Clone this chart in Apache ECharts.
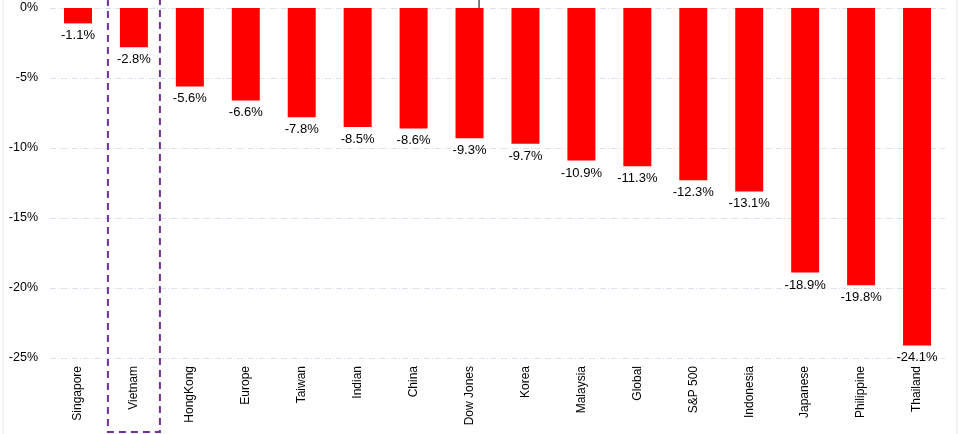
<!DOCTYPE html>
<html><head><meta charset="utf-8">
<script src="https://cdn.jsdelivr.net/npm/echarts@6/dist/echarts.min.js"></script>
<style>html,body{margin:0;padding:0;background:#fff}#c{width:961px;height:434px}</style>
</head><body><div id="c"></div>
<script>
var categories = ['Singapore','Vietnam','HongKong','Europe','Taiwan','Indian','China','Dow Jones','Korea','Malaysia','Global','S&P 500','Indonesia','Japanese','Philippine','Thailand'];
var values = [-1.1,-2.8,-5.6,-6.6,-7.8,-8.5,-8.6,-9.3,-9.7,-10.9,-11.3,-12.3,-13.1,-18.9,-19.8,-24.1];
var highlighted = 'Vietnam';
var markedCategory = 'Dow Jones';

var chart = echarts.init(document.getElementById('c'));
var font = 'Liberation Sans, Arial, sans-serif';
chart.setOption({
  animation: false,
  grid: {left: 50, right: 16, top: 8, bottom: 76},
  xAxis: {
    type: 'category', data: categories, position: 'bottom',
    axisLine: {show: false}, axisTick: {show: false},
    axisLabel: {rotate: 90, color: '#000', fontFamily: font, fontSize: 12, margin: 8, interval: 0}
  },
  yAxis: {
    type: 'value', min: -25, max: 0, interval: 5,
    axisLine: {show: false}, axisTick: {show: false},
    axisLabel: {formatter: '{value}%', color: '#000', fontFamily: font, fontSize: 12.5, margin: 12},
    splitLine: {lineStyle: {color: '#d9e1ee', type: [6, 2, 1, 2]}}
  },
  series: [{
    type: 'bar', data: values, barWidth: 28,
    itemStyle: {color: '#ff0000'},
    label: {show: true, position: 'bottom', distance: 6, formatter: function(p){return p.value.toFixed(1)+'%';},
      color: '#000', fontFamily: font, fontSize: 13}
  }]
});
var vx = chart.convertToPixel({xAxisIndex: 0}, highlighted);
var dx = chart.convertToPixel({xAxisIndex: 0}, markedCategory);
chart.setOption({
  graphic: [
    {type: 'rect', shape: {x: 3, y: -2, width: 954, height: 440}, style: {fill: 'none', stroke: '#e6e6e6', lineWidth: 1}, silent: true},
    {type: 'rect', shape: {x: vx - 26, y: -10, width: 52, height: 442}, style: {fill: 'none', stroke: '#7030a0', lineWidth: 2, lineDash: [7, 5]}, silent: true},
    {type: 'line', shape: {x1: dx + 9.5, y1: 0, x2: dx + 9.5, y2: 10}, style: {stroke: '#000', lineWidth: 1}, silent: true}
  ]
});
</script></body></html>
